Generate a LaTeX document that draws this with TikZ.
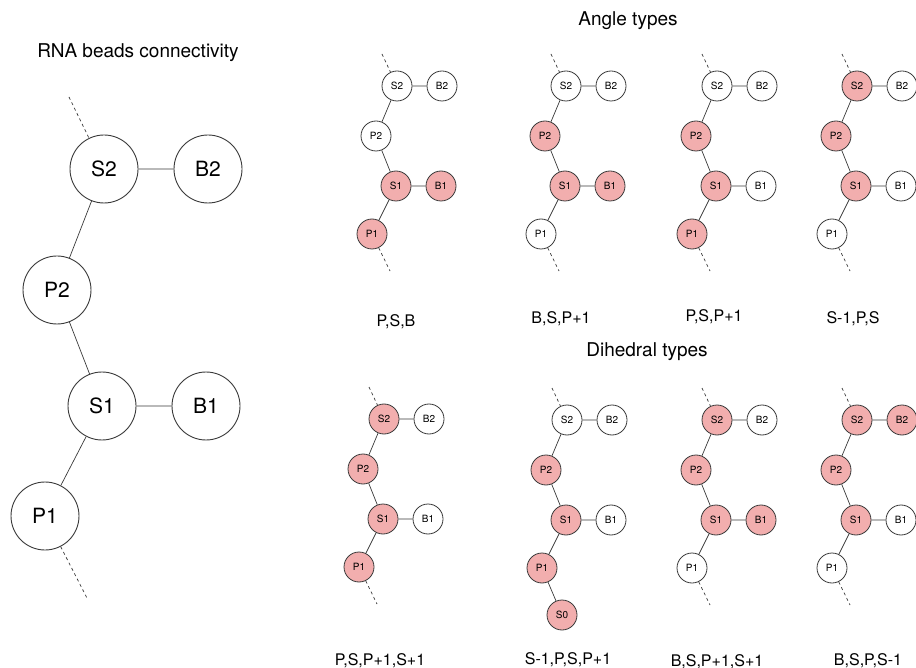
\documentclass[tikz,border=0pt]{standalone}
\usepackage{fontspec}
\setmainfont{TeX Gyre Heros}
\definecolor{pinkfill}{HTML}{F2AEAE}
\definecolor{edgegray}{HTML}{3A3A3A}
\tikzset{
  bigbead/.style={circle, draw=edgegray, line width=0.9pt, fill=white, minimum size=68pt, inner sep=0pt, font=\fontsize{21}{21}\selectfont},
  sbead/.style={circle, draw=edgegray, line width=0.8pt, fill=white, minimum size=30pt, inner sep=0pt, font=\fontsize{10}{10}\selectfont},
  hl/.style={fill=pinkfill},
  wt/.style={fill=white},
  bond/.style={draw=edgegray, line width=0.7pt},
  dashline/.style={draw=edgegray, line width=0.7pt, dash pattern=on 3pt off 3pt},
  heading/.style={anchor=base, font=\fontsize{19}{19}\selectfont},
  caption/.style={anchor=base, font=\fontsize{16}{16}\selectfont},
}
\newcommand{\molecule}[8]{%
  \begin{scope}[shift={#2}]
    \node[sbead,#3] (#1S2) at (0,0) {S2};
    \node[sbead,#4] (#1B2) at (45,0) {B2};
    \node[sbead,#5] (#1P2) at (-21,50) {P2};
    \node[sbead,#6] (#1S1) at (-1,100) {S1};
    \node[sbead,#7] (#1B1) at (44,100) {B1};
    \node[sbead,#8] (#1P1) at (-25,148) {P1};
    \coordinate (#1top) at (-15,-32);
    \coordinate (#1bot) at (-7,185);
    \draw[bond] (#1S2) -- (#1B2) (#1S2) -- (#1P2) (#1P2) -- (#1S1) (#1S1) -- (#1B1) (#1S1) -- (#1P1);
    \draw[dashline] (#1top) -- (#1S2);
  \end{scope}}
\begin{document}
\begin{tikzpicture}[x=1pt,y=-1pt]
\clip (0,0) rectangle (916,668);
\fill[white] (0,0) rectangle (916,668);

% Left: connectivity
\node[heading] (title) at (138,58) {RNA beads connectivity};
\node[bigbead] (S2) at (104,169) {S2};
\node[bigbead] (B2) at (208,169) {B2};
\node[bigbead] (P2) at (57,290) {P2};
\node[bigbead] (S1) at (102,406) {S1};
\node[bigbead] (B1) at (206,406) {B1};
\node[bigbead] (P1) at (45,516) {P1};
\coordinate (ltop) at (69,97);
\coordinate (lbot) at (88,600);
\draw[bond] (S2) -- (B2) (S2) -- (P2) (P2) -- (S1) (S1) -- (B1) (S1) -- (P1);
\draw[dashline] (ltop) -- (S2);
\draw[dashline] (P1) -- (lbot);

% Angle types
\node[heading] (angle) at (628,26) {Angle types};
\molecule{a}{(397,86)}{wt}{wt}{wt}{hl}{hl}{hl}
\molecule{b}{(566,86)}{wt}{wt}{hl}{hl}{hl}{wt}
\molecule{c}{(717,86)}{wt}{wt}{hl}{hl}{wt}{hl}
\molecule{d}{(857,86)}{hl}{wt}{hl}{hl}{wt}{wt}
\draw[dashline] (aP1) -- (abot);
\draw[dashline] (bP1) -- (bbot);
\draw[dashline] (cP1) -- (cbot);
\draw[dashline] (dP1) -- (dbot);
\node[caption] (la) at (396,327) {P,S,B};
\node[caption] (lb) at (561,324) {B,S,P+1};
\node[caption] (lc) at (714,322) {P,S,P+1};
\node[caption] (ld) at (853,324) {S-1,P,S};

% Dihedral types
\node[heading] (dihedral) at (647,357) {Dihedral types};
\molecule{e}{(384,419)}{hl}{wt}{hl}{hl}{wt}{hl}
\molecule{f}{(567,420)}{wt}{wt}{hl}{hl}{wt}{hl}
\molecule{g}{(717,420)}{hl}{wt}{hl}{hl}{hl}{wt}
\molecule{h}{(857,420)}{hl}{hl}{hl}{hl}{wt}{wt}
\node[sbead,hl] (fS0) at (562,615) {S0};
\draw[bond] (fP1) -- (fS0);
\draw[dashline] (eP1) -- (ebot);
\draw[dashline] (gP1) -- (gbot);
\draw[dashline] (hP1) -- (hbot);
\node[caption] (le) at (380,665) {P,S,P+1,S+1};
\node[caption] (lf) at (568,664) {S-1,P,S,P+1};
\node[caption] (lg) at (717,666) {B,S,P+1,S+1};
\node[caption] (lh) at (868,665) {B,S,P,S-1};
\end{tikzpicture}
\end{document}
